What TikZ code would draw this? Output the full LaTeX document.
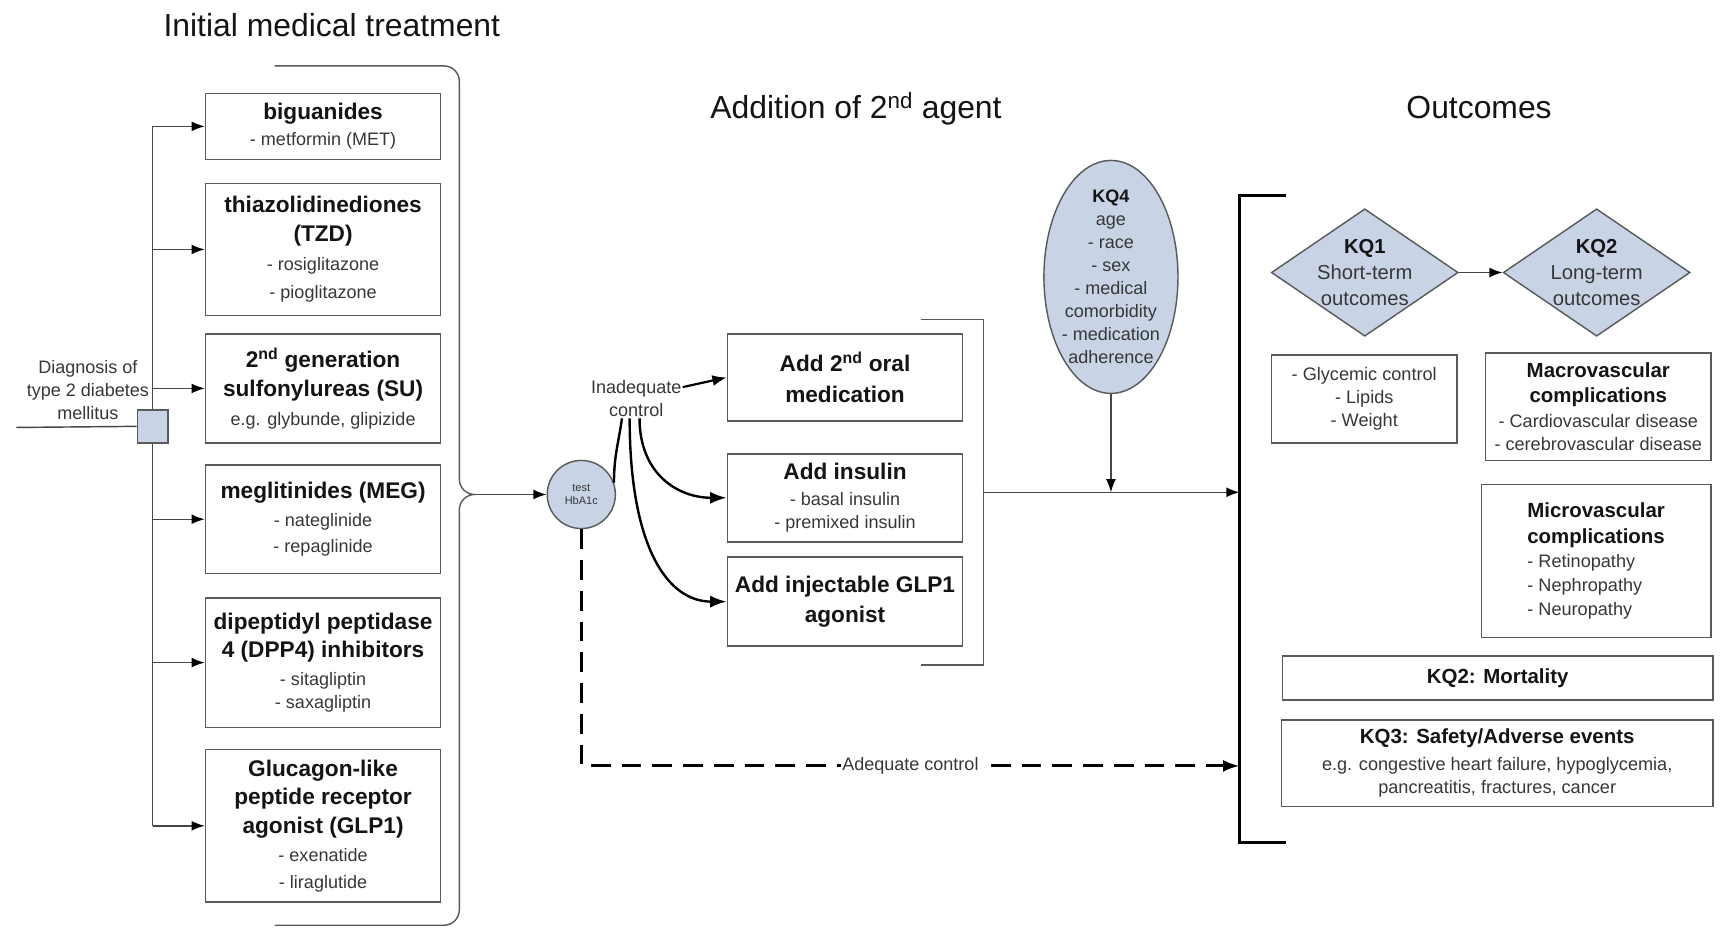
\documentclass[tikz,border=0pt]{standalone}
\usepackage{fontspec}
\setmainfont{Liberation Sans}
\usetikzlibrary{arrows.meta,shapes.geometric}
\definecolor{fillb}{RGB}{200,212,230}
\definecolor{edge}{RGB}{90,90,90}
\definecolor{lncol}{RGB}{70,70,70}
\definecolor{txt}{RGB}{20,20,20}
\definecolor{stxt}{RGB}{55,55,55}
\newcommand\myfs[2]{\fontsize{#1}{#2}\selectfont}
\newcommand\bh[1]{{\myfs{20.6}{26}\bfseries\color{txt}#1}}
\newcommand\hb[1]{{\myfs{18.6}{22}\bfseries\color{txt}#1}}
\begin{document}
\begin{tikzpicture}[x=1pt,y=-1pt,
  title/.style={font=\myfs{29}{34}, text=txt, inner sep=0pt, anchor=base},
  box/.style={draw=edge, line width=1.4pt, fill=white, align=center, inner sep=0pt, text=stxt},
  lbox/.style={box, minimum width=214pt, font=\myfs{16.4}{26}},
  mbox/.style={box, minimum width=214pt, font=\myfs{16.4}{26}},
  rbox/.style={box, font=\myfs{16.5}{21}},
  fillshape/.style={draw=edge, line width=1.3pt, fill=fillb},
  ln/.style={draw=lncol, line width=1.3pt},
  arr/.style={ln, -{Latex[length=12pt,width=9pt,color=black]}},
  arrb/.style={draw=black, line width=2pt, -{Latex[length=13pt,width=10pt]}},
  curv/.style={draw=black, line width=2.2pt},
  curvarr/.style={curv, -{Latex[length=15pt,width=11pt]}},
  dashln/.style={draw=black, line width=2.6pt, dash pattern=on 18pt off 10pt, -{Latex[length=15pt,width=11pt]}},
  thickbr/.style={draw=black, line width=3pt},
  stext/.style={align=center, inner sep=1pt, text=stxt, font=\myfs{16.4}{21}}
]
\fill[white] (0,0) rectangle (1568,846);
\useasboundingbox (0,0) rectangle (1568,846);

% titles
\node[title] (t1) at (302,33) {Initial medical treatment};
\node[title] (t2) at (779,108) {Addition of 2\textsuperscript{nd} agent};
\node[title] (t3) at (1346,108) {Outcomes};

% left boxes
\node[lbox, minimum height=60pt] (big) at (294,115) {\bh{biguanides}\\[-2pt]- metformin (MET)};
\node[lbox, minimum height=120pt] (tzd) at (294,227) {\bh{thiazolidinediones}\\\bh{(TZD)}\\- rosiglitazone\\- pioglitazone};
\node[lbox, minimum height=99pt] (su) at (294,353.5) {\bh{2\textsuperscript{nd} generation}\\\bh{sulfonylureas (SU)}\\e.g. glybunde, glipizide};
\node[lbox, minimum height=99pt] (meg) at (294,472.5) {\bh{meglitinides (MEG)}\\[-1pt]- nateglinide\\[-2pt]- repaglinide};
\node[lbox, minimum height=118pt] (dpp) at (294,603) {\bh{dipeptidyl peptidase}\\\bh{4 (DPP4) inhibitors}\\[-1pt]- sitagliptin\\[-5pt]- saxagliptin};
\node[lbox, minimum height=139pt] (glp) at (294,751.5) {\bh{Glucagon-like}\\\bh{peptide receptor}\\\bh{agonist (GLP1)}\\- exenatide\\[-2pt]- liraglutide};

% diagnosis
\coordinate (dstart) at (15,389);
\node[stext] (diag) at (80,355) {Diagnosis of\\type 2 diabetes\\mellitus};
\node[fillshape, minimum width=28pt, minimum height=30pt, inner sep=0pt] (sq) at (139,388) {};
\draw[ln] (sq.center |- big.west) -- (sq.north);
\draw[ln] (sq.south) -- (sq.center |- glp.west);
\draw[ln] (dstart) -- (sq.west);
\foreach \n in {big,tzd,su,meg,dpp,glp}
  \draw[arr] (sq.center |- \n.west) -- (\n.west);

% brace
\coordinate (bracetip) at (432,450);
\draw[ln, draw=edge] (250,60) -- (404,60) to[out=0,in=90] (418,74) -- (418,436)
  to[out=-90,in=180] (bracetip) to[out=180,in=90] (418,464) -- (418,828)
  to[out=-90,in=0] (404,842) -- (250,842);

% HbA1c
\node[circle, fillshape, minimum size=62pt, inner sep=0pt, align=center,
      font=\myfs{10}{12}, text=stxt] (hba) at (529,450) {test\\HbA1c};
\draw[arr] (bracetip) -- (hba.west);

% inadequate control
\node[stext] (inad) at (579,363) {Inadequate\\control};

% middle boxes
\node[mbox, minimum height=79pt] (add2) at (769,343.5) {\bh{Add 2\textsuperscript{nd} oral}\\[2pt]\bh{medication}};
\node[mbox, minimum height=80pt] (ins) at (769,453) {\bh{Add insulin}\\[-2pt]- basal insulin\\[-5pt]- premixed insulin};
\node[mbox, minimum height=81pt] (gl) at (769,547.5) {\bh{Add injectable GLP1}\\[1pt]\bh{agonist}};

\draw[arrb] ([yshift=-7pt]inad.north east) -- (add2.west);
\draw[curv] (hba.20) .. controls +(0,-25) and +(-3,22) .. ([xshift=-13pt]inad.south);
\draw[curvarr] ([xshift=3pt]inad.south) .. controls +(0,50) and +(-45,0) .. (ins.west);
\draw[curvarr] ([xshift=-6pt]inad.south) .. controls +(0,115) and +(-55,0) .. (gl.west);

% middle bracket
\coordinate (mbt) at (838,291);
\coordinate (mbb) at (838,605);
\coordinate (mbmid) at (895,448);
\draw[ln, draw=edge] (mbt) -- (895,291) -- (895,605) -- (mbb);

% outcomes bracket
\coordinate (obtop) at (1128,178);
\coordinate (obbot) at (1128,767);
\coordinate (obmid) at (1128,448);
\coordinate (obdash) at (1128,697);
\draw[thickbr] ([xshift=42pt]obtop) -- (obtop) -- (obbot) -- ([xshift=42pt]obbot);

\draw[arr] (mbmid) -- (obmid);
\draw[dashln] (hba.south) |- node[pos=0.75, fill=white, inner sep=1pt, text=stxt, font=\myfs{16.4}{20}] {Adequate control} (obdash);

% KQ4
\node[ellipse, fillshape, minimum width=122pt, minimum height=212pt, inner sep=0pt] (kq4) at (1011,252) {};
\node[stext, inner sep=0pt] (kq4t) at (kq4.center) {\textbf{\color{txt}KQ4}\\age\\- race\\- sex\\- medical\\comorbidity\\- medication\\adherence};
\draw[arr] (kq4.south) -- (kq4.south |- obmid);

% diamonds
\node[diamond, fillshape, minimum width=170pt, minimum height=116pt, inner sep=0pt] (kq1) at (1242,248) {};
\node[stext, inner sep=0pt, font=\myfs{18.4}{24}] (kq1t) at (kq1.center) {\textbf{\color{txt}KQ1}\\Short-term\\outcomes};
\node[diamond, fillshape, minimum width=170pt, minimum height=116pt, inner sep=0pt] (kq2) at (1453,248) {};
\node[stext, inner sep=0pt, font=\myfs{18.4}{24}] (kq2t) at (kq2.center) {\textbf{\color{txt}KQ2}\\Long-term\\outcomes};
\draw[arr] (kq1.east) -- (kq2.west);

% outcome boxes
\node[rbox, minimum width=169pt, minimum height=80pt] (glyc) at (1241.5,363) {- Glycemic control\\- Lipids\\- Weight};
\node[rbox, minimum width=205pt, minimum height=98pt, font=\myfs{16.5}{22}] (macro) at (1454.5,370) {\hb{Macrovascular}\\[1pt]\hb{complications}\\- Cardiovascular disease\\[-1pt]- cerebrovascular disease};
\node[rbox, minimum width=209pt, minimum height=139pt, align=left, font=\myfs{16.5}{22}] (micro) at (1452.5,510.5) {\hb{Microvascular}\\[2pt]\hb{complications}\\- Retinopathy\\- Nephropathy\\- Neuropathy};
\node[rbox, minimum width=392pt, minimum height=40pt] (mort) at (1363,617) {\hb{KQ2: Mortality}};
\node[rbox, minimum width=393pt, minimum height=79pt] (kq3) at (1362.5,694.5) {\hb{KQ3: Safety/Adverse events}\\[3pt]e.g. congestive heart failure, hypoglycemia,\\pancreatitis, fractures, cancer};
\end{tikzpicture}
\end{document}
